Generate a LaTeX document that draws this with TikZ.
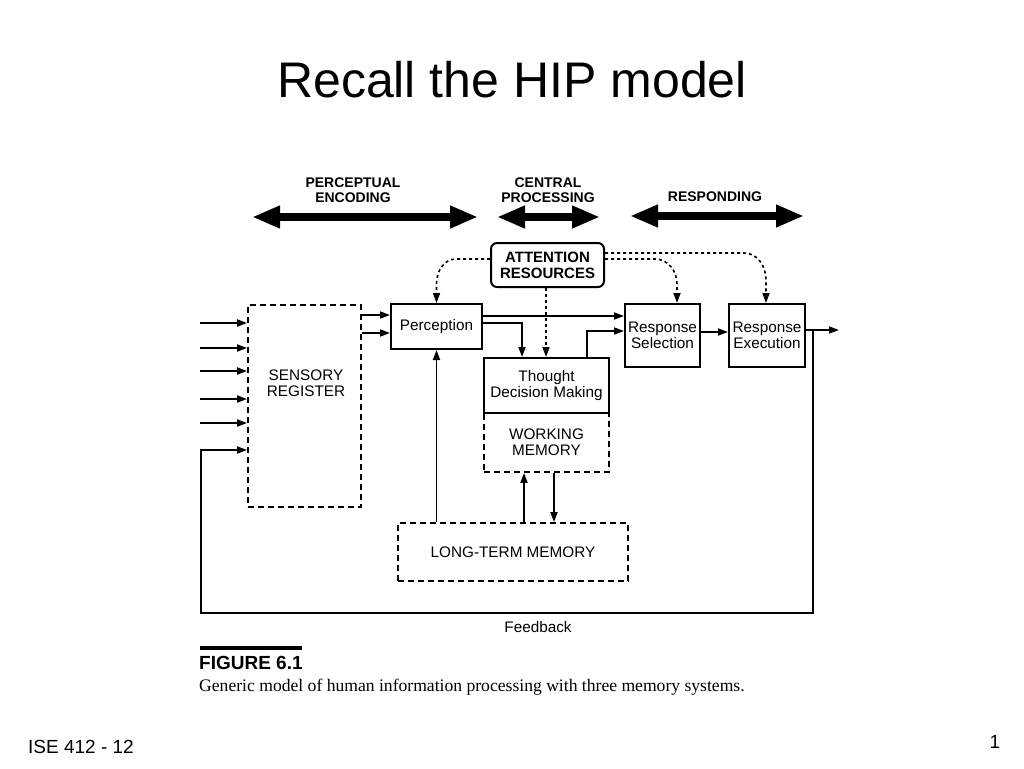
\documentclass[tikz,border=0pt]{standalone}
\usepackage{fontspec}
\setmainfont{Liberation Sans}
\newfontfamily\capserif{Liberation Serif}
\usetikzlibrary{arrows.meta}
\begin{document}
\begin{tikzpicture}[x=1pt,y=-1pt,
  txt/.style={font=\fontsize{15.3}{16}\selectfont, align=center, inner sep=0pt},
  boldlbl/.style={font=\bfseries\fontsize{14}{14.5}\selectfont, align=center, inner sep=0pt},
  solidbox/.style={draw, line width=2pt, inner sep=0pt, txt},
  dashbox/.style={draw, line width=1.8pt, dash pattern=on 6pt off 4pt, inner sep=0pt, txt},
  conn/.style={line width=1.8pt},
  arr/.style={conn, -{Triangle[length=10pt,width=7pt]}},
  darr/.style={line width=1.6pt, dash pattern=on 3pt off 3pt, -{Triangle[length=10pt,width=7pt]}},
  bigarr/.style={line width=8pt, {Triangle[length=28pt,width=21pt]}-{Triangle[length=28pt,width=21pt]}}
]
\useasboundingbox (0,0) rectangle (1024,768);
\fill[white] (0,0) rectangle (1024,768);

% title
\node[inner sep=0pt, font=\fontsize{50}{55}\selectfont] (title) at (512,80) {Recall the HIP model};

% stage labels and arrows
\node[boldlbl] (pe) at (353,190) {PERCEPTUAL\\ENCODING};
\node[boldlbl] (cp) at (548,190) {CENTRAL\\PROCESSING};
\node[boldlbl] (rp) at (715,197) {RESPONDING};
\coordinate (pea) at (252,217); \coordinate (peb) at (478,217);
\coordinate (cpa) at (497,217); \coordinate (cpb) at (600,217);
\coordinate (rpa) at (630,216); \coordinate (rpb) at (804,216);
\draw[bigarr] (pea) -- (peb);
\draw[bigarr] (cpa) -- (cpb);
\draw[bigarr] (rpa) -- (rpb);

% boxes
\node[dashbox, minimum width=113pt, minimum height=202pt] (sr) at (304.5,406) {};
\node[txt] (srt) at (306,383.5) {SENSORY\\REGISTER};
\node[solidbox, minimum width=91pt, minimum height=45pt] (per) at (436.5,326.5) {Perception};
\node[draw, line width=2pt, rounded corners=6pt, minimum width=113pt, minimum height=44pt,
      inner sep=0pt, align=center, font=\bfseries\fontsize{15}{16}\selectfont] (att) at (547.5,265) {ATTENTION\\RESOURCES};
\node[dashbox, minimum width=125pt, minimum height=59pt] (wm) at (546.5,442.5) {WORKING\\MEMORY};
\node[solidbox, fill=white, minimum width=125pt, minimum height=55pt] (th) at (546.5,385.5) {Thought\\Decision Making};
\node[solidbox, minimum width=75pt, minimum height=63pt] (rs) at (662.5,335.5) {Response\\Selection};
\node[solidbox, minimum width=76pt, minimum height=63pt] (re) at (767,335.5) {Response\\Execution};
\node[dashbox, minimum width=230pt, minimum height=58pt] (ltm) at (513,552) {LONG-TERM MEMORY};

% inputs to sensory register
\foreach \i/\yy in {1/323,2/348,3/371,4/399,5/423}{
  \coordinate (in\i) at (200,\yy);
  \draw[arr] (in\i) -- (in\i -| sr.west);
}

% sensory register -> perception
\coordinate (s1) at (0,315); \coordinate (s2) at (0,333);
\draw[arr] (sr.east |- s1) -- (per.west |- s1);
\draw[arr] (sr.east |- s2) -- (per.west |- s2);

% perception -> response selection and thought
\coordinate (p1) at (0,316); \coordinate (p2) at (0,323);
\draw[arr] (per.east |- p1) -- (rs.west |- p1);
\draw[arr] (per.east |- p2) -| ([xshift=-24.5pt]th.north);

% thought -> response selection
\coordinate (t1) at (0,331);
\draw[arr] ([xshift=40.5pt]th.north) |- (rs.west |- t1);

% response selection -> execution -> out
\coordinate (r1) at (0,332);
\draw[arr] (rs.east |- r1) -- (re.west |- r1);
\coordinate (fb1) at (813,330);
\coordinate (outend) at (839,330);
\draw[arr] (re.east |- fb1) -- (outend);

% feedback loop
\coordinate (fb2) at (813,613);
\coordinate (fb3) at (201,613);
\coordinate (fb4) at (201,450);
\draw[arr] (fb1) -- (fb2) -- (fb3) -- (fb4) -- (sr.west |- fb4);
\node[txt] (fbl) at (538,627) {Feedback};

% long-term memory links
\draw[arr] (ltm.north -| per.south) -- (per.south);
\coordinate (m1) at (524,0); \coordinate (m2) at (554,0);
\draw[arr] (ltm.north -| m1) -- (wm.south -| m1);
\draw[arr] (wm.south -| m2) -- (ltm.north -| m2);

% attention links
\coordinate (a0) at (546,0);
\draw[darr] (att.south -| a0) -- (th.north -| a0);
\coordinate (al) at (0,259);
\draw[darr] (att.west |- al) -- (456,259) to[out=180,in=90] (436.5,284) -- (per.north);
\draw[darr] (att.east |- al) -- (655,259) to[out=0,in=90] (677,284) -- (rs.north -| 677,0);
\coordinate (ah) at (0,253);
\draw[darr] (att.east |- ah) -- (744,253) to[out=0,in=90] (766,280) -- (re.north -| 766,0);

% figure caption
\draw[line width=3.5pt] (200,648) -- (302,648);
\node[anchor=west, inner sep=0pt, font=\bfseries\fontsize{19}{20}\selectfont] (fig) at (199,663) {FIGURE 6.1};
\node[anchor=west, inner sep=0pt, font=\capserif\fontsize{17.6}{20}\selectfont] (cap) at (199,687) {Generic model of human information processing with three memory systems.};

% footer
\node[inner sep=0pt, font=\fontsize{19}{20}\selectfont] (foot) at (81,747) {ISE 412 - 12};
\node[inner sep=0pt, font=\fontsize{19}{20}\selectfont] (pg) at (995,742) {1};
\end{tikzpicture}
\end{document}
